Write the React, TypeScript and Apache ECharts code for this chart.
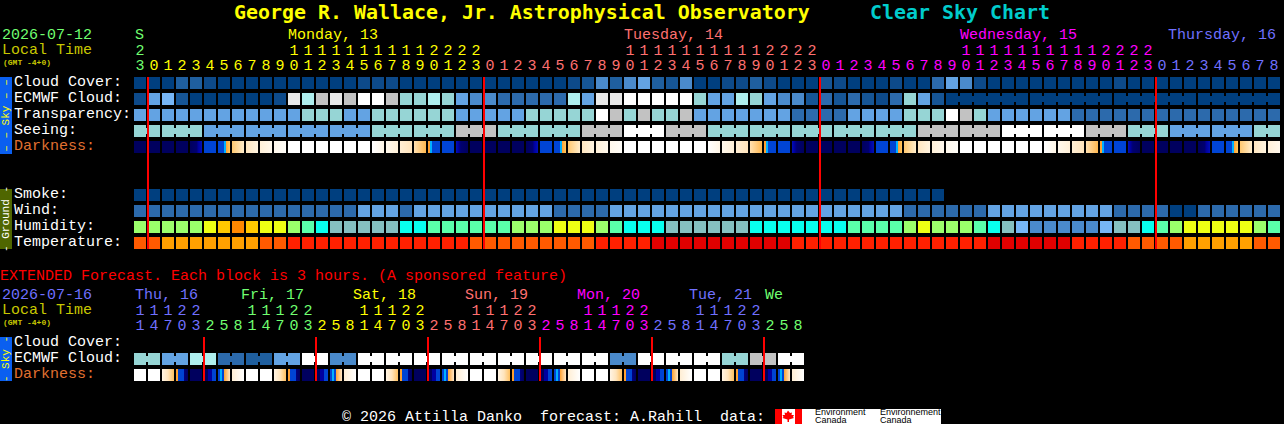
import React, { useEffect, useRef } from "react";
import * as echarts from "echarts";

const words = (s: string) => s.trim().split(/\s+/);

// ---------- near-term forecast: one hour per column ----------
const hourDigits = words(`3 0 1 2 3 4 5 6 7 8 9 0 1 2 3 4 5 6 7 8 9 0 1 2 3
 0 1 2 3 4 5 6 7 8 9 0 1 2 3 4 5 6 7 8 9 0 1 2 3
 0 1 2 3 4 5 6 7 8 9 0 1 2 3 4 5 6 7 8 9 0 1 2 3
 0 1 2 3 4 5 6 7 8`);
const tensDigits = words(`2 . . . . . . . . . . 1 1 1 1 1 1 1 1 1 1 2 2 2 2
 . . . . . . . . . . 1 1 1 1 1 1 1 1 1 1 2 2 2 2
 . . . . . . . . . . 1 1 1 1 1 1 1 1 1 1 2 2 2 2
 . . . . . . . . .`).map((d) => (d === "." ? "" : d));
const hourDays = words(`Sun
 Mon Mon Mon Mon Mon Mon Mon Mon Mon Mon Mon Mon Mon Mon Mon Mon Mon Mon Mon Mon Mon Mon Mon Mon
 Tue Tue Tue Tue Tue Tue Tue Tue Tue Tue Tue Tue Tue Tue Tue Tue Tue Tue Tue Tue Tue Tue Tue Tue
 Wed Wed Wed Wed Wed Wed Wed Wed Wed Wed Wed Wed Wed Wed Wed Wed Wed Wed Wed Wed Wed Wed Wed Wed
 Thu Thu Thu Thu Thu Thu Thu Thu Thu`);

const rowLabels = ["Cloud Cover:", "ECMWF Cloud:", "Transparency:", "Seeing:", "Darkness:", "", "", "Smoke:", "Wind:", "Humidity:", "Temperature:"];

const cloudCover = words(`C0 C0 C0 C3 C3 C1 C0 C0 C0 C0
 C0 C0 C0 C0 C0 C0 C1 C1 C1 C0
 C0 C0 C0 C0 C0 C0 C0 C0 C0 C0
 C0 C1 C2 C5 C3 C5 C6 C3 C2 C5
 C0 C0 C1 C1 C3 C1 C0 C0 C0 C2
 C1 C0 C0 C0 C1 C0 C0 C4 C6 C5
 C1 C0 C0 C0 C0 C0 C0 C0 C0 C0
 C1 C0 C0 C0 C0 C0 C0 C0 C0 C0 C0 C0`);
const ecmwfCloud = words(`C1 C6 C7 C2 C0 C0 C0 C0 C0 C0
 C1 L T9 G L G W W G T8
 T8 T9 T8 C6 C5 C5 C4 C4 C4 C4
 C4 T9 C6 L L W W W W W
 T8 C6 C6 T9 T8 C6 C5 C5 C2 C4
 C2 C4 C2 C1 C4 T8 C6 C2 C0 C0
 C0 C0 C0 C0 C0 C0 C0 C0 C0 C0
 C0 C0 C0 C0 C0 C0 C0 C0 C0 C0 C0 C0`);
const transparency = words(`C6 C6 C6 C6 C6 C6 C6 C6 C6 C6
 C6 C6 T8 T8 T8 C6 C6 T8 T8 T8
 T8 T8 T8 C6 C6 C6 C6 C6 T8 T8
 T8 T8 T8 W G T8 G T8 T8 G
 C6 C6 C6 C6 C6 C6 C6 C4 C4 C4
 C4 C6 C6 C6 C6 T8 T8 T8 W G
 T8 C6 C6 C6 C6 C6 C6 C4 C4 C4
 C4 C4 C4 C4 C4 C4 C4 C4 C4 C4 C4 C4`);
const seeingBlocks = words(`T8 T8 C6 C6 C6 C6 T8 T8 G T8 T8 G W G T8 T8 T8 T8 T8 G G W W G T8 C6 C6 T8`);
const seeingBlockLengths = [2, 3, 3, 3, 3, 3, 3, 3, 3, 3, 3, 3, 3, 3, 3, 3, 3, 3, 3, 3, 3, 3, 3, 3, 3, 3, 3, 2];
const darkness = words(`n n n n d3 b d1 d0 a3 a2
 a1 W W W W W W e1 e2 e3
 e4 f1 b f3 n n n n d3 b
 d1 d0 a3 a2 a1 W W W W W
 W e1 e2 e3 e4 f1 b f3 n n
 n n d3 b d1 d0 a3 a2 a1 W
 W W W W W e1 e2 e3 e4 f1
 b f3 n n n n d3 b d1 d0 a3 a2`);
const smoke = words(`C0 C0 C0 C0 C0 C0 C0 C0 C0 C0
 C0 C0 C0 C0 C0 C0 C0 C0 C0 C0
 C0 C0 C0 C0 C0 C0 C0 C0 C0 C0
 C0 C0 C0 C0 C0 C0 C0 C0 C0 C0
 C0 C0 C0 C0 C0 C0 C0 C0 C0 C0
 C0 C0 C0 C0 C0 C0 C0 C0`);
const wind = words(`C4 C4 C4 C4 C4 C4 C4 C4 C4 C4
 C4 C4 C4 C4 C4 C4 C6 C6 C6 C4
 C6 C6 C6 C6 C6 C6 C6 C6 C6 C6
 C4 C4 C4 C4 C6 C6 C6 C6 C6 C6
 C6 C6 C6 C6 C6 C6 C6 C6 C6 C6
 C6 C6 C6 C6 C6 C4 C4 C4 C4 C4
 C4 C6 C6 C6 C6 C6 C6 C6 C6 C6
 C4 C4 C4 C4 C0 C0 C4 C4 C4 C4 C4 C4`);
const humidity = words(`Li Li Li Li Li Ye Am Or Am Ye
 Ye Li Gr Cy Hz Hz Hz Hz Hz Cy
 Cy Gr Gr Gr Gr Gr Gr Li Li Li
 Ye Ye Ye Li Gr Cy Cy Cy Hz Hz
 Hz Hz Hz Hz Cy Cy Cy Cy Cy Cy
 Cy Gr Gr Gr Gr Li Ye Li Li Li
 Gr Cy Hz C7 C5 C5 C5 C5 C5 C7
 Hz Hz Cy Gr Li Ye Ye Ye Ye Ye Li Gr`);
const temperature = words(`Tb Tb Ta Ta Ta Ta Ta Ta Ta Tb
 Tb Tc Tc Tc Tc Tc Tc Tc Tc Tc
 Tc Tc Tc Tc Tb Tb Tb Tb Tb Tb
 Tb Tb Tb Tc Tc Tc Tc Td Td Td
 Td Td Td Td Td Td Td Tc Tc Tc
 Tc Tc Tc Tc Tc Tc Tc Tc Tc Tc
 Tc Td Td Td Td Td Td Tc Tc Tc
 Tc Tb Tb Tb Tb Ta Ta Ta Ta Ta Tb Tb`);
const midnightCols = [1, 25, 49, 73];

// ---------- extended forecast: three hours per column ----------
const extHourDigits = words(`1 4 7 0 3 2 5 8 1 4 7 0 3 2 5 8 1 4 7 0 3 2 5 8 1 4 7 0 3 2 5 8 1 4 7 0 3 2 5 8 1 4 7 0 3 2 5 8`);
const extTensDigits = words(`1 1 1 2 2 . . . 1 1 1 2 2 . . . 1 1 1 2 2 . . . 1 1 1 2 2 . . . 1 1 1 2 2 . . . 1 1 1 2 2 . . .`).map((d) => (d === "." ? "" : d));
const extHourDays = words(`Thu Thu Thu Thu Thu Fri Fri Fri Fri Fri Fri Fri Fri Sat Sat Sat Sat Sat Sat Sat Sat
 Sun Sun Sun Sun Sun Sun Sun Sun Mon Mon Mon Mon Mon Mon Mon Mon Tue Tue Tue Tue Tue Tue Tue Tue Wed Wed Wed`);
const extRowLabels = ["Cloud Cover:", "ECMWF Cloud:", "Darkness:"];
const extEcmwfBlocks = words(`T8 C6 T9 C4 C3 C6 W C5 W W W W W W W W W C5 W W W T8 G W`);
const extDarkness = words(`W W x2 x3 n x5 x6 x7 W W x2 x3 n x5 x6 x7
 W W x2 x3 n x5 x6 x7 W W x2 x3 n x5 x6 x7
 W W x2 x3 n x5 x6 x7 W W x2 x3 n x5 x6 x7`);
const extMidnightCols = [5, 13, 21, 29, 37, 45];

// ---------- headings ----------
const dayHeadings = ["S", "Monday, 13", "Tuesday, 14", "Wednesday, 15", "Thursday, 16"];
const dayHeadingKeys = ["Sun", "Mon", "Tue", "Wed", "Thu"];
const extDayHeadings = ["Thu, 16", "Fri, 17", "Sat, 18", "Sun, 19", "Mon, 20", "Tue, 21", "We"];
const extDayHeadingKeys = ["Thu", "Fri", "Sat", "Sun", "Mon", "Tue", "Wed"];

// ---------- styles ----------
const COLORS: Record<string, string> = {
  C0: "#003f7f", C1: "#0d4a8a", C2: "#165595", C3: "#1f5f9f", C4: "#2c6aac", C5: "#4a8acb", C6: "#63a3e3", C7: "#76b6f6",
  T8: "#96d5d5", T9: "#aeeeee", G: "#c2c2c2", L: "#e8e8e8", W: "#ffffff",
  Li: "#9bff6b", Ye: "#eeff14", Am: "#ffc800", Or: "#ff8800", Gr: "#5affaa", Cy: "#08ffee", Hz: "#85c0c0",
  Ta: "#ffa000", Tb: "#ff5a00", Tc: "#ff2000", Td: "#e00000",
  n: "#00005e", b: "#0044d4",
};
const NAVY = "#00005e", BLUE = "#0044d4", CYAN = "#00b0ff", ORANGE = "#ffa030";
const GRADIENTS: Record<string, [number, string][]> = {
  d3: [[0, NAVY], [0.55, "#000070"], [0.7, "#0000a0"], [1, "#0010b8"]],
  d1: [[0, BLUE], [0.5, BLUE], [0.5, CYAN], [0.67, CYAN], [0.67, ORANGE], [1, "#ffc860"]],
  d0: [[0, "#ffc870"], [1, "#ffedcc"]],
  a3: [[0, "#ffe6c0"], [1, "#fff4e0"]],
  a2: [[0, "#fff0d8"], [1, "#fff8ec"]],
  a1: [[0, "#fff8ec"], [1, "#fffdf8"]],
  e1: [[0, "#ffffff"], [1, "#fff6e6"]],
  e2: [[0, "#fff8ec"], [1, "#fff0d8"]],
  e3: [[0, "#ffeed4"], [1, "#ffe4bc"]],
  e4: [[0, "#ffe0b0"], [1, "#ffb850"]],
  f1: [[0, ORANGE], [0.17, ORANGE], [0.17, CYAN], [0.33, CYAN], [0.33, BLUE], [1, BLUE]],
  f3: [[0, "#0010b8"], [0.2, "#0000a0"], [0.4, "#000070"], [1, NAVY]],
  x2: [[0, "#fff4e4"], [0.5, "#ffe4bc"], [1, "#ffc060"]],
  x3: [[0, ORANGE], [0.17, ORANGE], [0.17, BLUE], [0.67, BLUE], [0.67, "#000080"], [1, NAVY]],
  x5: [[0, NAVY], [0.33, NAVY], [0.34, "#0000a0"], [0.66, "#0000a0"], [0.67, BLUE], [1, BLUE]],
  x6: [[0, BLUE], [0.17, BLUE], [0.17, CYAN], [0.33, CYAN], [0.33, BLUE], [0.5, BLUE], [0.5, ORANGE], [1, "#ffe8c8"]],
  x7: [[0, "#ffeed4"], [1, "#ffffff"]],
};
const DAY_COLORS: Record<string, string> = { Sun: "#70ff70", Mon: "#ffff00", Tue: "#ff7070", Wed: "#ff00ff", Thu: "#7070ff" };
const EXT_DAY_COLORS: Record<string, string> = { Thu: "#7070ff", Fri: "#70ff70", Sat: "#ffff00", Sun: "#ff7070", Mon: "#ff00ff", Tue: "#7070ff", Wed: "#70ff70" };
const FONT = "'Liberation Mono', monospace";
const TITLE_FONT = "'DejaVu Sans Mono', monospace";
const PLAIN = "'Liberation Sans', sans-serif";

function fillFor(token: string) {
  const stops = GRADIENTS[token];
  if (!stops) return COLORS[token] ?? "#000";
  return new echarts.graphic.LinearGradient(0, 0, 1, 0, stops.map(([offset, color]) => ({ offset, color })));
}

function expand(blocks: string[], lengths: number[]) {
  const tokens: string[] = [];
  const joins: boolean[] = [];
  blocks.forEach((b, k) => {
    for (let n = 0; n < lengths[k]; n++) {
      tokens.push(b);
      joins.push(n > 0);
    }
  });
  return { tokens, joins };
}

function rowSeries(name: string, xAxisIndex: number, yAxisIndex: number, row: number, tokens: string[], joins?: boolean[]) {
  return {
    name,
    type: "custom",
    coordinateSystem: "cartesian2d",
    xAxisIndex,
    yAxisIndex,
    clip: false,
    silent: true,
    z: 2,
    encode: { x: 0, y: 1 },
    data: tokens.map((_, i) => [i, row]),
    renderItem: (params: any, api: any) => {
      const [cx, cy] = api.coord([api.value(0), api.value(1)]);
      const [bw, bh] = api.size([1, 1]);
      const w = bw - 2;
      const h = bh - 4;
      const token = tokens[params.dataIndex];
      const fill = fillFor(token);
      const children: any[] = [
        { type: "rect", shape: { x: cx - w / 2, y: cy - h / 2, width: w, height: h }, style: { fill } },
      ];
      if (joins && joins[params.dataIndex]) {
        children.push({ type: "rect", shape: { x: cx - bw / 2 - 1, y: cy - 3, width: 2, height: 6 }, style: { fill } });
      }
      return { type: "group", children };
    },
  };
}

function redLines(name: string, xAxisIndex: number, yAxisIndex: number, cols: number[], lastRow: number) {
  return {
    name,
    type: "custom",
    coordinateSystem: "cartesian2d",
    xAxisIndex,
    yAxisIndex,
    clip: false,
    silent: true,
    z: 5,
    encode: { x: 0, y: 1 },
    data: cols.map((c) => [c, 0]),
    renderItem: (_: any, api: any) => {
      const [cx, top] = api.coord([api.value(0), 0]);
      const [, bottom] = api.coord([api.value(0), lastRow]);
      const [bw, bh] = api.size([1, 1]);
      const h = bh - 4;
      return {
        type: "rect",
        shape: { x: cx - bw / 2, y: top - h / 2, width: 2, height: bottom - top + h },
        style: { fill: "#ff0000" },
      };
    },
  };
}

function topAxis(gridIndex: number, data: string[], days: string[], palette: Record<string, string>, offset: number) {
  return {
    type: "category",
    gridIndex,
    position: "top",
    offset,
    data,
    axisLine: { show: false },
    axisTick: { show: false },
    splitLine: { show: false },
    axisLabel: {
      interval: 0,
      hideOverlap: false,
      margin: 1,
      fontFamily: FONT,
      fontSize: 15,
      color: (_: string, index: number) => palette[days[index]],
    },
  };
}

function leftAxis(gridIndex: number, data: string[]) {
  return {
    type: "category",
    gridIndex,
    inverse: true,
    data,
    axisLine: { show: false },
    axisTick: { show: false },
    splitLine: { show: false },
    axisLabel: {
      interval: 0,
      hideOverlap: false,
      align: "left",
      verticalAlign: "bottom",
      margin: 119,
      lineHeight: 15,
      padding: [0, 0, -7, 0],
      fontFamily: FONT,
      fontSize: 15,
      color: (value: string) => (value === "Darkness:" ? "#e07030" : "#ffffff"),
    },
  };
}

const txt = (text: string, x: number, y: number, fill: string, extra: any = {}) => ({
  type: "text",
  x,
  y,
  silent: true,
  style: { text, fill, font: `15px ${FONT}`, verticalAlign: "middle", ...extra },
});

const sideBar = (top: number, bottom: number, fill: string, label: string, color: string) => [
  { type: "rect", silent: true, shape: { x: 0, y: top, width: 12, height: bottom - top }, style: { fill } },
  {
    type: "text",
    silent: true,
    x: 6,
    y: (top + bottom) / 2,
    rotation: Math.PI / 2,
    style: { text: label, fill: color, font: `11px ${FONT}`, align: "center", verticalAlign: "middle" },
  },
];

const leafPoints = [[788, 410.5], [790, 413], [792, 412.5], [791.5, 415], [794, 415], [793, 417], [794, 418], [789, 419.5], [789, 422], [787.5, 422], [787.5, 419.5], [782.5, 418], [783.5, 417], [782.5, 415], [785, 415], [784.5, 412.5], [786.5, 413]];

export default function App() {
  const ref = useRef<HTMLDivElement>(null);
  useEffect(() => {
    document.body.style.margin = "0";
    document.body.style.background = "#000";
    const chart = echarts.init(ref.current!, undefined, { renderer: "svg" });
    const seeing = expand(seeingBlocks, seeingBlockLengths);
    const ecmwfJoins = ecmwfCloud.map((_, i) => i > 58 && (i - 58) % 6 !== 0);
    const ext = expand(extEcmwfBlocks, extEcmwfBlocks.map(() => 2));

    const headingX = [135, 288, 624, 960, 1168];
    const extHeadingX = [135, 241, 353, 465, 577, 689, 765];
    const small = { font: `bold 8px ${FONT}` };
    const note = { font: `9px ${PLAIN}` };

    const option: any = {
      animation: false,
      backgroundColor: "#000",
      grid: [
        { left: 133, top: 75, width: 14 * 82, height: 16 * 11 },
        { left: 133, top: 335, width: 14 * 48, height: 16 * 3 },
      ],
      xAxis: [
        topAxis(0, hourDigits, hourDays, DAY_COLORS, 0),
        topAxis(0, tensDigits, hourDays, DAY_COLORS, 15),
        topAxis(1, extHourDigits, extHourDays, EXT_DAY_COLORS, 0),
        topAxis(1, extTensDigits, extHourDays, EXT_DAY_COLORS, 15),
      ],
      yAxis: [leftAxis(0, rowLabels), leftAxis(1, extRowLabels)],
      series: [
        rowSeries("Cloud Cover", 0, 0, 0, cloudCover),
        rowSeries("ECMWF Cloud", 0, 0, 1, ecmwfCloud, ecmwfJoins),
        rowSeries("Transparency", 0, 0, 2, transparency),
        rowSeries("Seeing", 0, 0, 3, seeing.tokens, seeing.joins),
        rowSeries("Darkness", 0, 0, 4, darkness),
        rowSeries("Smoke", 0, 0, 7, smoke),
        rowSeries("Wind", 0, 0, 8, wind),
        rowSeries("Humidity", 0, 0, 9, humidity),
        rowSeries("Temperature", 0, 0, 10, temperature),
        redLines("Midnight", 0, 0, midnightCols, 10),
        rowSeries("Extended ECMWF Cloud", 2, 1, 1, ext.tokens, ext.joins),
        rowSeries("Extended Darkness", 2, 1, 2, extDarkness),
        redLines("Extended midnight", 2, 1, extMidnightCols, 2),
      ],
      graphic: [
        txt("George R. Wallace, Jr. Astrophysical Observatory", 234, 12, "#ffff00", { font: `bold 19.93px ${TITLE_FONT}` }),
        txt("Clear Sky Chart", 870, 12, "#00cccc", { font: `bold 19.93px ${TITLE_FONT}` }),
        txt("2026-07-12", 2, 35.5, "#70ff70"),
        txt("Local Time", 2, 50.5, "#c8c800"),
        txt("(GMT -4+0)", 3, 62, "#c8c800", small),
        ...dayHeadings.map((t, i) => txt(t, headingX[i], 35.5, DAY_COLORS[dayHeadingKeys[i]])),
        txt("EXTENDED Forecast. Each block is 3 hours. (A sponsored feature)", 0, 276.5, "#ff0000"),
        txt("2026-07-16", 2, 295.5, "#7070ff"),
        txt("Local Time", 2, 310.5, "#c8c800"),
        txt("(GMT -4+0)", 3, 322, "#c8c800", small),
        ...extDayHeadings.map((t, i) => txt(t, extHeadingX[i], 295.5, EXT_DAY_COLORS[extDayHeadingKeys[i]])),
        ...sideBar(77, 154, "#0a5ff0", "\u2013 \u2013 Sky \u2013 \u2013", "#ffff00"),
        ...sideBar(189, 249, "#4f6600", "- Ground -", "#ffffff"),
        ...sideBar(337, 381, "#0a5ff0", "- Sky -", "#ffff00"),
        txt("\u00a9 2026 Attilla Danko  forecast: A.Rahill  data:", 342, 417, "#ffffff"),
        { type: "rect", silent: true, shape: { x: 775, y: 409, width: 27, height: 15 }, style: { fill: "#ff0000" } },
        { type: "rect", silent: true, shape: { x: 782, y: 409, width: 13, height: 15 }, style: { fill: "#ffffff" } },
        { type: "polygon", silent: true, shape: { points: leafPoints }, style: { fill: "#ff0000" } },
        { type: "rect", silent: true, shape: { x: 802, y: 409, width: 139, height: 15 }, style: { fill: "#ffffff" } },
        txt("Environment", 815, 412, "#000", note),
        txt("Canada", 815, 420, "#000", note),
        txt("Environnement", 880, 412, "#000", note),
        txt("Canada", 880, 420, "#000", note),
      ],
    };
    chart.setOption(option);
    return () => chart.dispose();
  }, []);
  return <div ref={ref} style={{ width: 1284, height: 424, background: "#000" }} />;
}
